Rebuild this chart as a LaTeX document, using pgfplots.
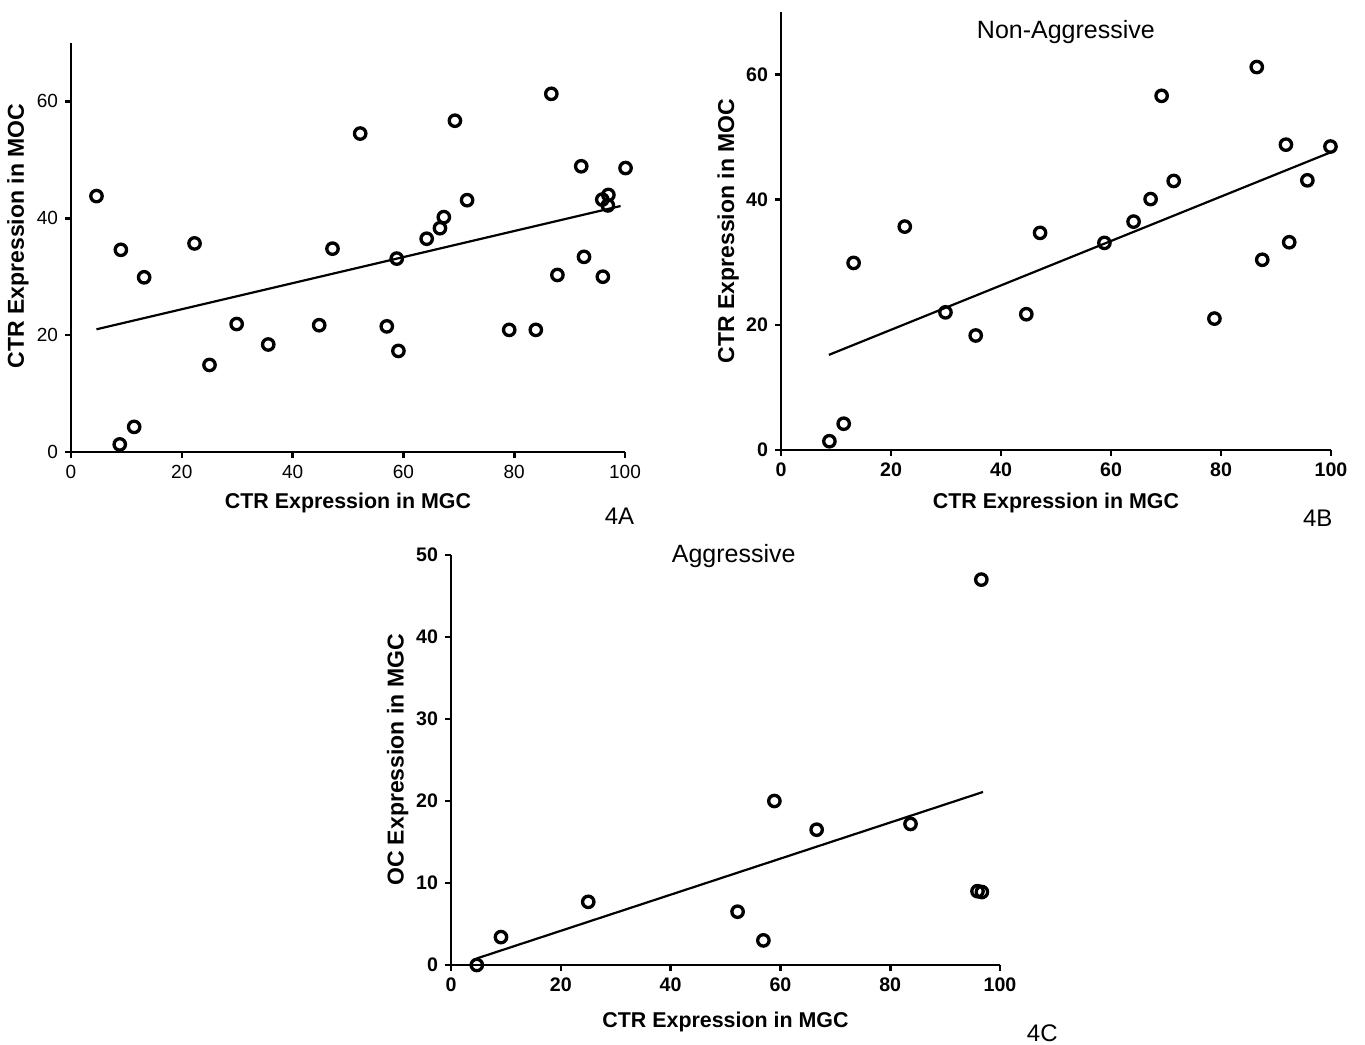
\documentclass[border=0pt]{standalone}
\usepackage{fontspec}
\setmainfont{Liberation Sans}
\usepackage{pgfplots}
\pgfplotsset{compat=1.18}

\pgfplotsset{
  prism/.style={
    scale only axis,
    axis lines=left,
    axis line style={-, line width=1.4pt},
    tick align=outside,
    major tick length=3pt,
    every tick/.style={black, line width=1.3pt},
    xmin=0, xmax=100,
    xtick={0,20,...,100},
    clip=false,
    /pgf/number format/assume math mode=true,
    xlabel style={font=\fontsize{10.7}{12}\selectfont\bfseries},
    ylabel style={font=\fontsize{11.5}{13}\selectfont\bfseries},
  },
  pts/.style={only marks, mark=o, mark size=2.85pt, mark options={line width=1.65pt, black}},
  fit/.style={black, line width=1.1pt, no marks},
}

\begin{document}
\begin{tikzpicture}
\useasboundingbox (0,0) rectangle (682.5pt,522pt);

% 4A
\begin{axis}[prism,
  at={(35.5pt,296pt)}, anchor=south west,
  width=277pt, height=204.5pt,
  ymin=0, ymax=70, ytick={0,20,40,60},
  tick label style={font=\fontsize{9.5}{11}\selectfont},
  xlabel={CTR Expression in MGC},
  ylabel={CTR Expression in MOC},
  xlabel style={at={(axis description cs:0.5,-0.125)}, anchor=center},
  ylabel style={at={(axis description cs:-0.096,0.528)}, anchor=center},
]
\addplot[pts] coordinates {
 (4.6,43.8) (9.0,34.6) (13.2,29.9) (8.8,1.3) (11.4,4.3) (22.3,35.7) (25.0,14.9)
 (29.9,21.9) (35.6,18.4) (44.8,21.7) (47.2,34.8) (52.2,54.5) (57.0,21.5)
 (58.8,33.1) (59.1,17.3) (64.2,36.5) (66.6,38.3) (67.3,40.2) (69.3,56.7)
 (71.5,43.1) (79.1,20.9) (83.9,20.9) (86.7,61.3) (87.8,30.3) (92.1,48.9)
 (92.6,33.4) (96.0,30.0) (95.9,43.2) (97.0,44.0) (96.9,42.2) (100.1,48.6)
};
\addplot[fit] coordinates {(4.6,21.0) (99.2,42.1)};
\node[font=\fontsize{12}{14}\selectfont] at (rel axis cs:0.99,-0.156) {4A};
\end{axis}

% 4B
\begin{axis}[prism,
  at={(390.5pt,297pt)}, anchor=south west,
  width=275pt, height=219pt,
  ymin=0, ymax=70, ytick={0,20,40,60},
  tick label style={font=\fontsize{9.8}{11}\selectfont\bfseries},
  xlabel={CTR Expression in MGC},
  ylabel={CTR Expression in MOC},
  xlabel style={at={(axis description cs:0.5,-0.121)}, anchor=center},
  ylabel style={at={(axis description cs:-0.096,0.50)}, anchor=center},
]
\addplot[pts] coordinates {
 (8.8,1.4) (11.4,4.2) (13.2,29.9) (22.5,35.7) (29.9,22.0) (35.4,18.3)
 (44.6,21.7) (47.1,34.7) (58.8,33.1) (64.1,36.5) (67.2,40.1) (69.2,56.6)
 (71.4,43.0) (78.8,21.0) (86.5,61.2) (87.5,30.4) (91.8,48.8) (92.4,33.2)
 (95.7,43.1) (99.9,48.5)
};
\addplot[fit] coordinates {(8.7,15.2) (100,47.6)};
\node[font=\fontsize{12.5}{14}\selectfont] at (rel axis cs:0.518,0.954) {Non-Aggressive};
\node[font=\fontsize{12}{14}\selectfont] at (rel axis cs:0.976,-0.155) {4B};
\end{axis}

% 4C
\begin{axis}[prism,
  at={(225.5pt,39.5pt)}, anchor=south west,
  width=274.5pt, height=205pt,
  ymin=0, ymax=50, ytick={0,10,...,50},
  tick label style={font=\fontsize{9.8}{11}\selectfont\bfseries},
  xlabel={CTR Expression in MGC},
  ylabel={OC Expression in MGC},
  xlabel style={at={(axis description cs:0.5,-0.139)}, anchor=center},
  ylabel style={at={(axis description cs:-0.097,0.50)}, anchor=center},
]
\addplot[pts] coordinates {
 (4.7,0) (9.1,3.4) (25.0,7.7) (52.2,6.5) (56.9,3.0) (58.9,20.0)
 (66.6,16.5) (83.7,17.2) (95.9,9.0) (96.7,8.9) (96.6,47.0)
};
\addplot[fit] coordinates {(4.7,0.8) (96.9,21.1)};
\node[font=\fontsize{12.5}{14}\selectfont] at (rel axis cs:0.515,0.998) {Aggressive};
\node[font=\fontsize{12}{14}\selectfont, anchor=base] at (rel axis cs:1.077,-0.186) {4C};
\end{axis}
\end{tikzpicture}
\end{document}
